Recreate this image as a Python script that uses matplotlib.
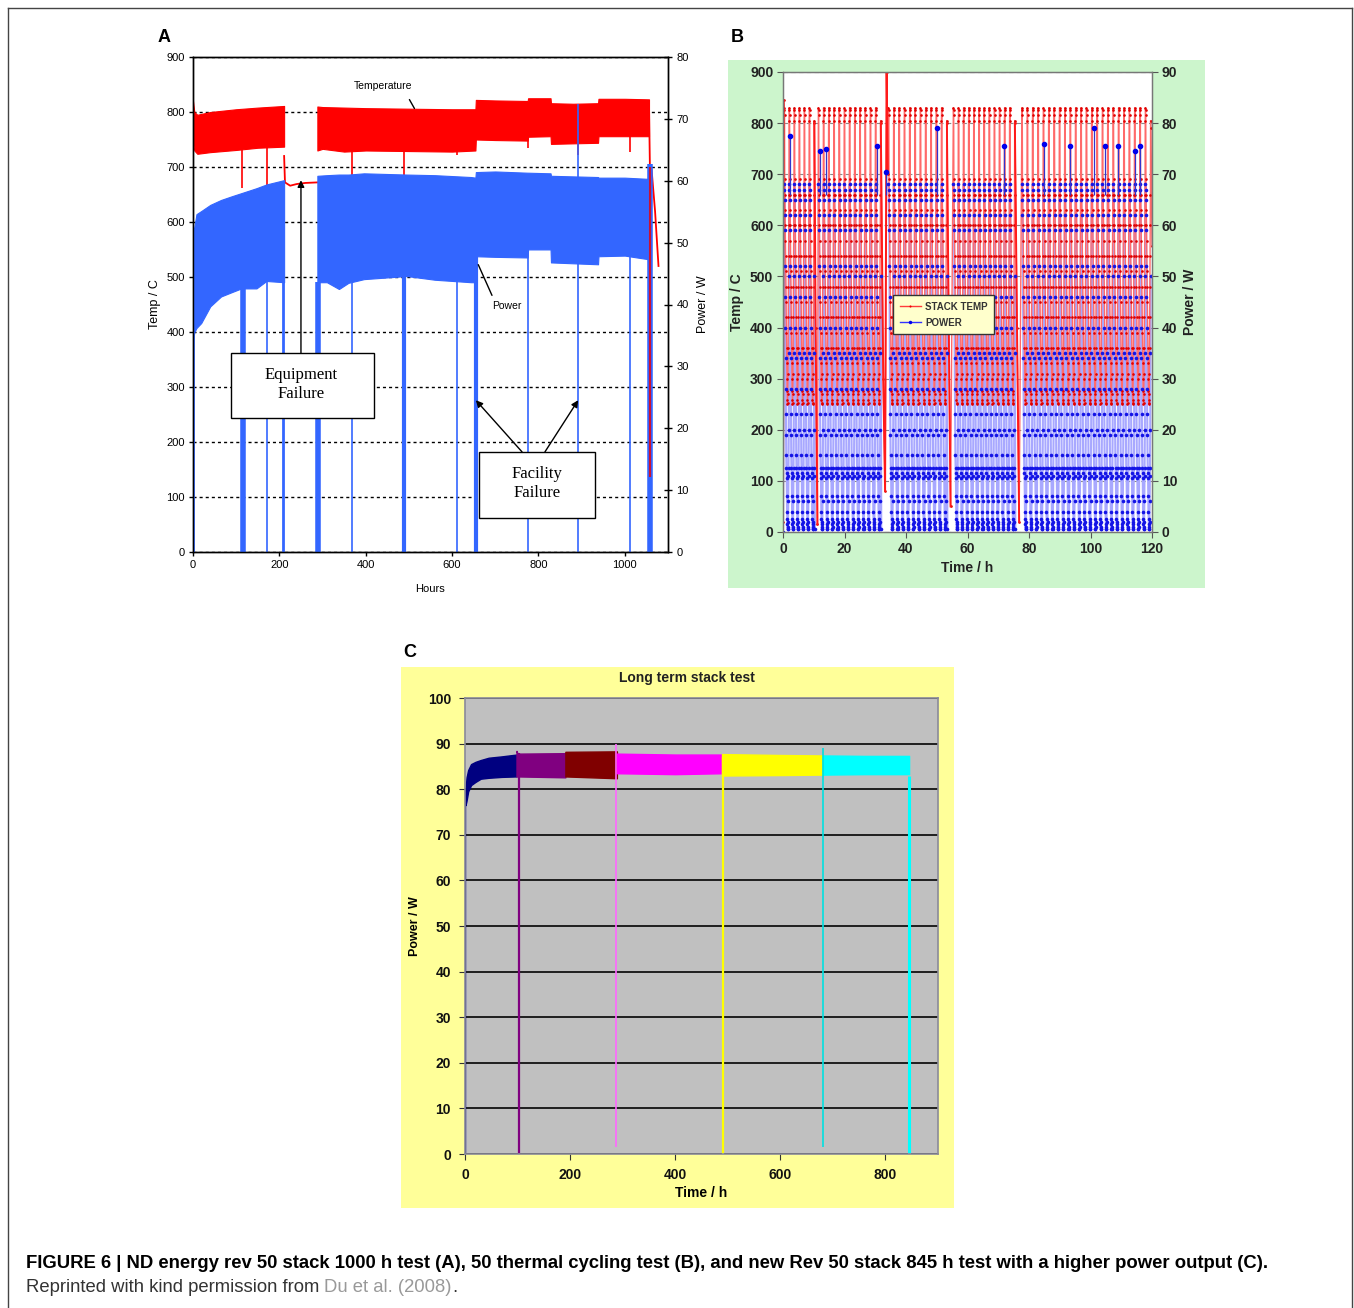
import numpy as np
import matplotlib
matplotlib.use("Agg")
import matplotlib.pyplot as plt
from matplotlib.patches import Rectangle
from matplotlib.lines import Line2D
from matplotlib.text import Annotation

W, H = 1354, 1308
SANS = ["Liberation Sans", "DejaVu Sans"]
SERIF = ["Liberation Serif", "DejaVu Serif"]

# ---------------- Panel A data (hours, temperature C / power W) ----------------
A_temp_t1 = [0, 3, 10, 40, 100, 150, 211]
A_temp_top1 = [820, 800, 795, 800, 805, 808, 811]
A_temp_bot1 = [745, 730, 724, 727, 731, 735, 737]
A_temp_t2 = [288, 300, 350, 400, 500, 600, 654, 655, 700, 775, 776, 828, 829, 880, 938, 939, 1000, 1056]
A_temp_top2 = [810, 809, 808, 807, 806, 805, 805, 822, 821, 820, 825, 825, 816, 815, 816, 824, 824, 823]
A_temp_bot2 = [730, 733, 728, 730, 729, 728, 730, 750, 749, 748, 755, 756, 742, 743, 744, 756, 756, 756]
A_temp_gap_t = [211, 213, 225, 240, 260, 288]
A_temp_gap = [720, 672, 666, 669, 671, 672]
A_temp_tail_t = [1056, 1058, 1062, 1070, 1078]
A_temp_tail = [815, 705, 695, 620, 520]
A_temp_dip_t = [114, 172, 369, 488, 611, 775, 892, 1011]
A_temp_dip_low = [661, 666, 685, 680, 722, 735, 722, 728]
A_temp_fall_t = [1058]
A_temp_fall_low = [137]
A_temp_fall_high = [700]

A_pow_t1 = [0, 3, 8, 19, 40, 65, 90, 112, 147, 170, 211]
A_pow_top1 = [51.9, 52.5, 54.6, 55.1, 56.1, 56.9, 57.5, 58.0, 58.8, 59.4, 60.1]
A_pow_bot1 = [34.2, 35.5, 36.2, 37.0, 39.7, 41.3, 42.0, 42.6, 42.6, 43.8, 43.6]
A_pow_t2 = [288, 310, 338, 360, 396, 495, 560, 644, 654, 655, 700, 775, 776, 828, 829, 938, 939, 1000, 1056]
A_pow_top2 = [60.8, 60.9, 61.0, 61.0, 61.2, 61.0, 60.9, 60.6, 60.5, 61.4, 61.5, 61.3, 61.3, 61.2, 60.8, 60.6, 60.5, 60.5, 60.3]
A_pow_bot2 = [43.6, 43.6, 42.5, 43.5, 44.1, 44.6, 44.0, 43.6, 43.6, 47.8, 47.7, 47.6, 48.9, 48.9, 46.8, 46.5, 47.8, 47.9, 47.3]
A_pow_drop_t = [1, 116, 172, 209, 290, 369, 488, 611, 655, 775, 892, 1011, 1058]
A_pow_drop_top = [35, 50, 43.8, 43.6, 43.6, 43.5, 44.6, 44, 47.8, 48.9, 72.4, 47.9, 62.7]
A_pow_drop_lw = [2, 4, 1.2, 2, 4, 1.2, 3, 1.2, 3, 1.2, 1.2, 1.2, 4]

A_xticks = [0, 200, 400, 600, 800, 1000]
A_yticks = list(range(0, 901, 100))
A_y2ticks = list(range(0, 81, 10))

# ---------------- Panel B data (thermal cycling) ----------------
B_seg_start = [0.4, 11.5, 34.3, 55.4, 77.7]
B_seg_end = [10.2, 31.8, 53.3, 75.4, 119.6]
B_seg_cycles = [6, 12, 11, 12, 24]
B_phase = [0.000, 0.033, 0.067, 0.100, 0.133, 0.167, 0.200, 0.233, 0.267, 0.300,
           0.333, 0.367, 0.400, 0.433, 0.467, 0.500, 0.533, 0.567, 0.600, 0.633,
           0.667, 0.700, 0.733, 0.767, 0.800, 0.833, 0.867, 0.900, 0.933, 0.967]
B_cycle_temp = [830, 826, 816, 690, 660, 630, 600, 570, 540, 510,
                480, 450, 420, 390, 360, 330, 300, 275, 258, 250,
                252, 270, 310, 360, 420, 480, 540, 600, 660, 805]
B_cycle_power = [68, 67, 65, 62, 59, 52, 46, 40, 34, 28,
                 23, 19, 15, 12.5, 11.5, 10.5, 7, 4, 2.5, 1.5,
                 0.5, 0.5, 1, 2, 6, 11, 12.5, 20, 35, 50]
B_gap_t = [[10.2, 10.6, 11.2], [31.8, 32.6, 33.2, 33.7, 34.1], [53.3, 53.9, 54.5], [75.4, 76.1, 76.8]]
B_gap_temp = [[800, 400, 15], [800, 300, 80, 900, 700], [800, 400, 50], [800, 400, 20]]
B_start_t = [0.0, 0.2]
B_start_temp = [20, 845]
B_end_t = [119.6, 120.0]
B_end_temp = [790, 560]
B_spike_t = [2.3, 11.9, 13.9, 30.7, 33.6, 50.2, 72.0, 84.8, 93.2, 101.1, 104.8, 108.9, 114.6, 116.1]
B_spike_power = [77.5, 74.5, 75, 75.5, 70.5, 79, 75.5, 76, 75.5, 79, 75.5, 75.5, 74.5, 75.5]
B_xticks = list(range(0, 121, 20))
B_yticks = list(range(0, 901, 100))
B_y2ticks = list(range(0, 91, 10))

# ---------------- Panel C data ----------------
C_seg_t = [[1, 3, 6, 11.5, 20, 30, 45, 70, 98],
           [98, 100, 191],
           [191, 289],
           [289, 400, 489],
           [489, 600, 681],
           [681, 760, 845]]
C_seg_top = [[80, 82.6, 84.2, 85.5, 86.0, 86.4, 86.9, 87.2, 87.6],
             [88.4, 87.8, 87.9],
             [88.2, 88.3],
             [87.8, 87.6, 87.6],
             [87.7, 87.5, 87.4],
             [87.4, 87.3, 87.3]]
C_seg_bot = [[76.5, 77.5, 79.5, 80.9, 81.6, 82.3, 82.5, 82.7, 82.8],
             [82.8, 82.8, 82.6],
             [82.8, 82.4],
             [83.5, 83.3, 83.5],
             [83.0, 83.1, 83.2],
             [83.2, 83.3, 83.3]]
C_seg_colors = ['#000080', '#800080', '#800000', '#ff00ff', '#ffff00', '#00ffff']
C_vline_t = [0.8, 102, 287, 491, 681, 844]
C_vline_lo = [0, 0, 1.5, 0, 1.5, 0]
C_vline_hi = [80, 88, 90, 87, 89, 83]
C_vline_colors = ['#000080', '#800080', '#ff66ff', '#ffff00', '#00e0e0', '#00ffff']
C_vline_lw = [1.0, 1.6, 1.2, 1.6, 1.2, 2.2]
C_xticks = [0, 200, 400, 600, 800]
C_yticks = list(range(0, 101, 10))


def rect(x0, y0, x1, y1):
    return [x0 / W, 1 - y1 / H, (x1 - x0) / W, (y1 - y0) / H]


fig = plt.figure(figsize=(W / 100, H / 100), dpi=100)
fig.patch.set_facecolor('white')

# frame around the figure
for xs, ys in [([8, 8], [8, 1308]), ([8, 1352], [8, 8]), ([1352, 1352], [8, 1308])]:
    fig.add_artist(Line2D([x / W for x in xs], [1 - y / H for y in ys],
                          transform=fig.transFigure, color='#444444', lw=1))

# ======================= Panel A =======================
RED = '#ff0000'
BLUE = '#3366ff'
axA = fig.add_axes(rect(193, 57, 668, 552))
axA.set_xlim(0, 1100)
axA.set_ylim(0, 900)
axA.set_axisbelow(True)
axA.yaxis.grid(True, color='black', lw=1.0, linestyle=(0, (2.2, 2.2)))
axA.fill_between(A_temp_t1, A_temp_bot1, A_temp_top1, color=RED, lw=0.8)
axA.fill_between(A_temp_t2, A_temp_bot2, A_temp_top2, color=RED, lw=0.8)
axA.plot(A_temp_gap_t, A_temp_gap, color=RED, lw=1.3)
axA.plot(A_temp_tail_t, A_temp_tail, color=RED, lw=1.3)
dip_top = np.interp(A_temp_dip_t, A_temp_t1 + A_temp_t2, A_temp_bot1 + A_temp_bot2) + 5
axA.vlines(A_temp_dip_t, A_temp_dip_low, dip_top, color=RED, lw=1.2)

axA2 = axA.twinx()
axA2.fill_between(A_pow_t1, A_pow_bot1, A_pow_top1, color=BLUE, lw=0.8)
axA2.fill_between(A_pow_t2, A_pow_bot2, A_pow_top2, color=BLUE, lw=0.8)
axA2.vlines(A_pow_drop_t, 0, A_pow_drop_top, color=BLUE, linewidths=A_pow_drop_lw)
axA2.vlines(A_temp_fall_t, A_temp_fall_low, A_temp_fall_high, color='#cc1133', lw=1.5,
            transform=axA.transData)

# annotations (drawn in the temperature coordinates, above everything)
TD = axA.transData
axA2.add_patch(Rectangle((88, 244), 330, 118, facecolor='white', edgecolor='black', lw=1,
                         zorder=5, transform=TD))
axA2.text(250, 304, 'Equipment\nFailure', family=SERIF, fontsize=12, ha='center', va='center',
          linespacing=1.25, zorder=6, transform=TD)
axA2.add_patch(Rectangle((663, 62), 267, 120, facecolor='white', edgecolor='black', lw=1,
                         zorder=5, transform=TD))
axA2.text(797, 124, 'Facility\nFailure', family=SERIF, fontsize=12, ha='center', va='center',
          linespacing=1.25, zorder=6, transform=TD)
arrow_kw = dict(arrowstyle='-|>', color='black', lw=1, mutation_scale=10, shrinkA=0, shrinkB=0)
axA2.annotate('', xy=(250, 676), xytext=(250, 362), xycoords=TD, textcoords=TD,
              arrowprops=arrow_kw, zorder=6)
axA2.annotate('', xy=(655, 276), xytext=(762, 182), xycoords=TD, textcoords=TD,
              arrowprops=arrow_kw, zorder=6)
axA2.annotate('', xy=(892, 276), xytext=(815, 182), xycoords=TD, textcoords=TD,
              arrowprops=arrow_kw, zorder=6)
axA2.text(440, 847, 'Temperature', family=SANS, fontsize=7.5, ha='center', va='center',
          transform=TD)
axA2.annotate('', xy=(516, 802), xytext=(498, 827), xycoords=TD, textcoords=TD,
              arrowprops=dict(arrowstyle='-', color='black', lw=1))
axA2.text(727, 447, 'Power', family=SANS, fontsize=7.5, ha='center', va='center', transform=TD)
axA2.annotate('', xy=(658, 527), xytext=(695, 462), xycoords=TD, textcoords=TD,
              arrowprops=dict(arrowstyle='-', color='black', lw=1))

axA.set_xlim(0, 1100)
axA2.set_ylim(0, 80)
axA.set_xticks(A_xticks)
axA.set_yticks(A_yticks)
axA2.set_yticks(A_y2ticks)
for a in (axA, axA2):
    for s in a.spines.values():
        s.set_color('black')
        s.set_linewidth(1.0)
axA.tick_params(axis='both', direction='out', length=3, width=1, pad=3, labelsize=8)
axA2.tick_params(axis='y', direction='inout', length=6, width=1, pad=3, labelsize=8)
for lab in axA.get_xticklabels() + axA.get_yticklabels() + axA2.get_yticklabels():
    lab.set_family(SANS)
axA.set_ylabel('Temp / C', family=SANS, fontsize=9, labelpad=4)
axA2.set_ylabel('Power / W', family=SANS, fontsize=9, labelpad=6)
axA.set_xlabel('Hours', family=SANS, fontsize=8, labelpad=10)

# ======================= Panel B =======================
fig.add_artist(Rectangle((728 / W, 1 - 588 / H), (1205 - 728) / W, (588 - 60) / H,
                         transform=fig.transFigure, facecolor='#ccf5cc', edgecolor='none', zorder=-1))
tT = list(B_start_t)
vT = list(B_start_temp)
tP = [0.0]
vP = [0.0]
for i, (s, e, n) in enumerate(zip(B_seg_start, B_seg_end, B_seg_cycles)):
    period = (e - s) / n
    for k in range(n):
        for ph, T, P in zip(B_phase, B_cycle_temp, B_cycle_power):
            tT.append(s + (k + ph) * period)
            vT.append(T)
            tP.append(s + (k + ph) * period)
            vP.append(P)
    if i < len(B_gap_t):
        tT += B_gap_t[i]
        vT += B_gap_temp[i]
        tP += [e + 0.15, e + 0.2]
        vP += [0.5, np.nan]
tT += B_end_t
vT += B_end_temp

axB = fig.add_axes(rect(783, 72, 1152, 532))
axB2 = axB.twinx()
axB.set_xlim(0, 120)
axB.set_ylim(0, 900)
axB2.set_ylim(0, 90)
axB.set_axisbelow(True)
axB.yaxis.grid(True, color='#888888', lw=0.8, linestyle=(0, (4, 3)))
# power connecting lines under the temperature trace, power markers on top
axB.plot(tP, vP, color='#a8a8ff', lw=1.5, zorder=1.5, transform=axB2.transData)
axB.plot(tT, vT, color='#ff6a6a', lw=1.0, marker='.', ms=3.8, mfc='#e00000', mec='none', zorder=2)
for gt, gv in zip(B_gap_t, B_gap_temp):
    axB.plot(gt, gv, color='#ff1a1a', lw=1.4, zorder=2.5)
axB.plot(B_start_t, B_start_temp, color='#ff1a1a', lw=1.4, zorder=2.5)
axB2.plot(tP, vP, ls='none', marker='o', ms=2.6, mfc='#1414e6', mec='none')
axB2.vlines(B_spike_t, 66, B_spike_power, color='#3333cc', lw=0.9)
axB2.plot(B_spike_t, B_spike_power, ls='none', marker='o', ms=3, color='#0000ee')
axB.set_xlim(0, 120)
axB.set_ylim(0, 900)
axB2.set_ylim(0, 90)

axB.set_xticks(B_xticks)
axB.set_yticks(B_yticks)
axB2.set_yticks(B_y2ticks)
for a in (axB, axB2):
    for s in a.spines.values():
        s.set_color('#777777')
        s.set_linewidth(0.9)
axB.tick_params(axis='both', direction='out', length=4, color='#555555', labelsize=10,
                labelcolor='#222222', pad=3)
axB2.tick_params(axis='y', direction='out', length=4, color='#555555', labelsize=10,
                 labelcolor='#222222', pad=3)
for lab in axB.get_xticklabels() + axB.get_yticklabels() + axB2.get_yticklabels():
    lab.set_family(SANS)
    lab.set_fontweight('bold')
axB.set_ylabel('Temp / C', family=SANS, fontweight='bold', fontsize=10, color='#222222', labelpad=4)
axB2.set_ylabel('Power / W', family=SANS, fontweight='bold', fontsize=10, color='#222222', labelpad=4)
axB.set_xlabel('Time / h', family=SANS, fontweight='bold', fontsize=10, color='#222222', labelpad=4)

handles = [Line2D([], [], color='#ff3b3b', lw=1, marker='.', ms=3, mfc='#ee0000', mec='none'),
           Line2D([], [], color='#3333ff', lw=1, marker='o', ms=2.5, mfc='#0000ee', mec='none')]
leg = axB2.legend(handles, ['STACK TEMP', 'POWER'], loc='upper left',
                  bbox_to_anchor=(888 / W, 1 - 290 / H), bbox_transform=fig.transFigure,
                  frameon=True, fancybox=False, facecolor='#ffffcc', edgecolor='#333333',
                  framealpha=1, borderpad=0.7, handlelength=2.2, handletextpad=0.4,
                  labelspacing=0.6, prop=dict(family=SANS, size=7, weight='bold'))
for t in leg.get_texts():
    t.set_color('#333333')

# ======================= Panel C =======================
fig.add_artist(Rectangle((401 / W, 1 - 1208 / H), (954 - 401) / W, (1208 - 667) / H,
                         transform=fig.transFigure, facecolor='#ffff99', edgecolor='none', zorder=-1))
axC = fig.add_axes(rect(465, 698, 938, 1154), facecolor='#c0c0c0')
axC.set_xlim(0, 900)
axC.set_ylim(0, 100)
axC.set_axisbelow(True)
axC.yaxis.grid(True, color='#1e1e1e', lw=1.4)
for t, top, bot, c in zip(C_seg_t, C_seg_top, C_seg_bot, C_seg_colors):
    axC.fill_between(t, bot, top, color=c, lw=1.0)
axC.vlines(C_vline_t, C_vline_lo, C_vline_hi, colors=C_vline_colors, linewidths=C_vline_lw)
axC.set_xticks(C_xticks)
axC.set_yticks(C_yticks)
for s in axC.spines.values():
    s.set_color('#8a8a9a')
    s.set_linewidth(1.2)
axC.tick_params(axis='both', direction='out', length=4, color='#333333', labelsize=10,
                labelcolor='#111111', pad=6)
for lab in axC.get_xticklabels() + axC.get_yticklabels():
    lab.set_family(SANS)
    lab.set_fontweight('bold')
axC.set_ylabel('Power / W', family=SANS, fontweight='bold', fontsize=9, labelpad=5)
axC.set_xlabel('Time / h', family=SANS, fontweight='bold', fontsize=10, labelpad=3)
fig.text(687 / W, 1 - 678 / H, 'Long term stack test', family=SANS, fontweight='bold',
         fontsize=10, ha='center', va='center', color='#222222')

# ======================= Panel letters & caption =======================
for letter, x, y in [('A', 164, 37), ('B', 737, 37), ('C', 410, 652)]:
    fig.text(x / W, 1 - y / H, letter, family=SANS, fontweight='bold', fontsize=13,
             ha='center', va='center')

CAP = 13.3
fig.text(26 / W, 1 - 1264 / H,
         'FIGURE 6 | ND energy rev 50 stack 1000 h test (A), 50 thermal cycling test (B), '
         'and new Rev 50 stack 845 h test with a higher power output (C).',
         family=SANS, fontweight='bold', fontsize=CAP, ha='left', va='center')
t1 = fig.text(26 / W, 1 - 1288 / H, 'Reprinted with kind permission from ',
              family=SANS, fontsize=CAP, ha='left', va='center', color='#333333')
t2 = Annotation('Du et al. (2008)', xy=(1, 0), xycoords=t1, va='bottom', ha='left',
                family=SANS, fontsize=CAP, color='#999999')
fig.add_artist(t2)
t3 = Annotation('.', xy=(1, 0), xycoords=t2, va='bottom', ha='left',
                family=SANS, fontsize=CAP, color='#333333')
fig.add_artist(t3)

fig.savefig('out.png', dpi=100)
